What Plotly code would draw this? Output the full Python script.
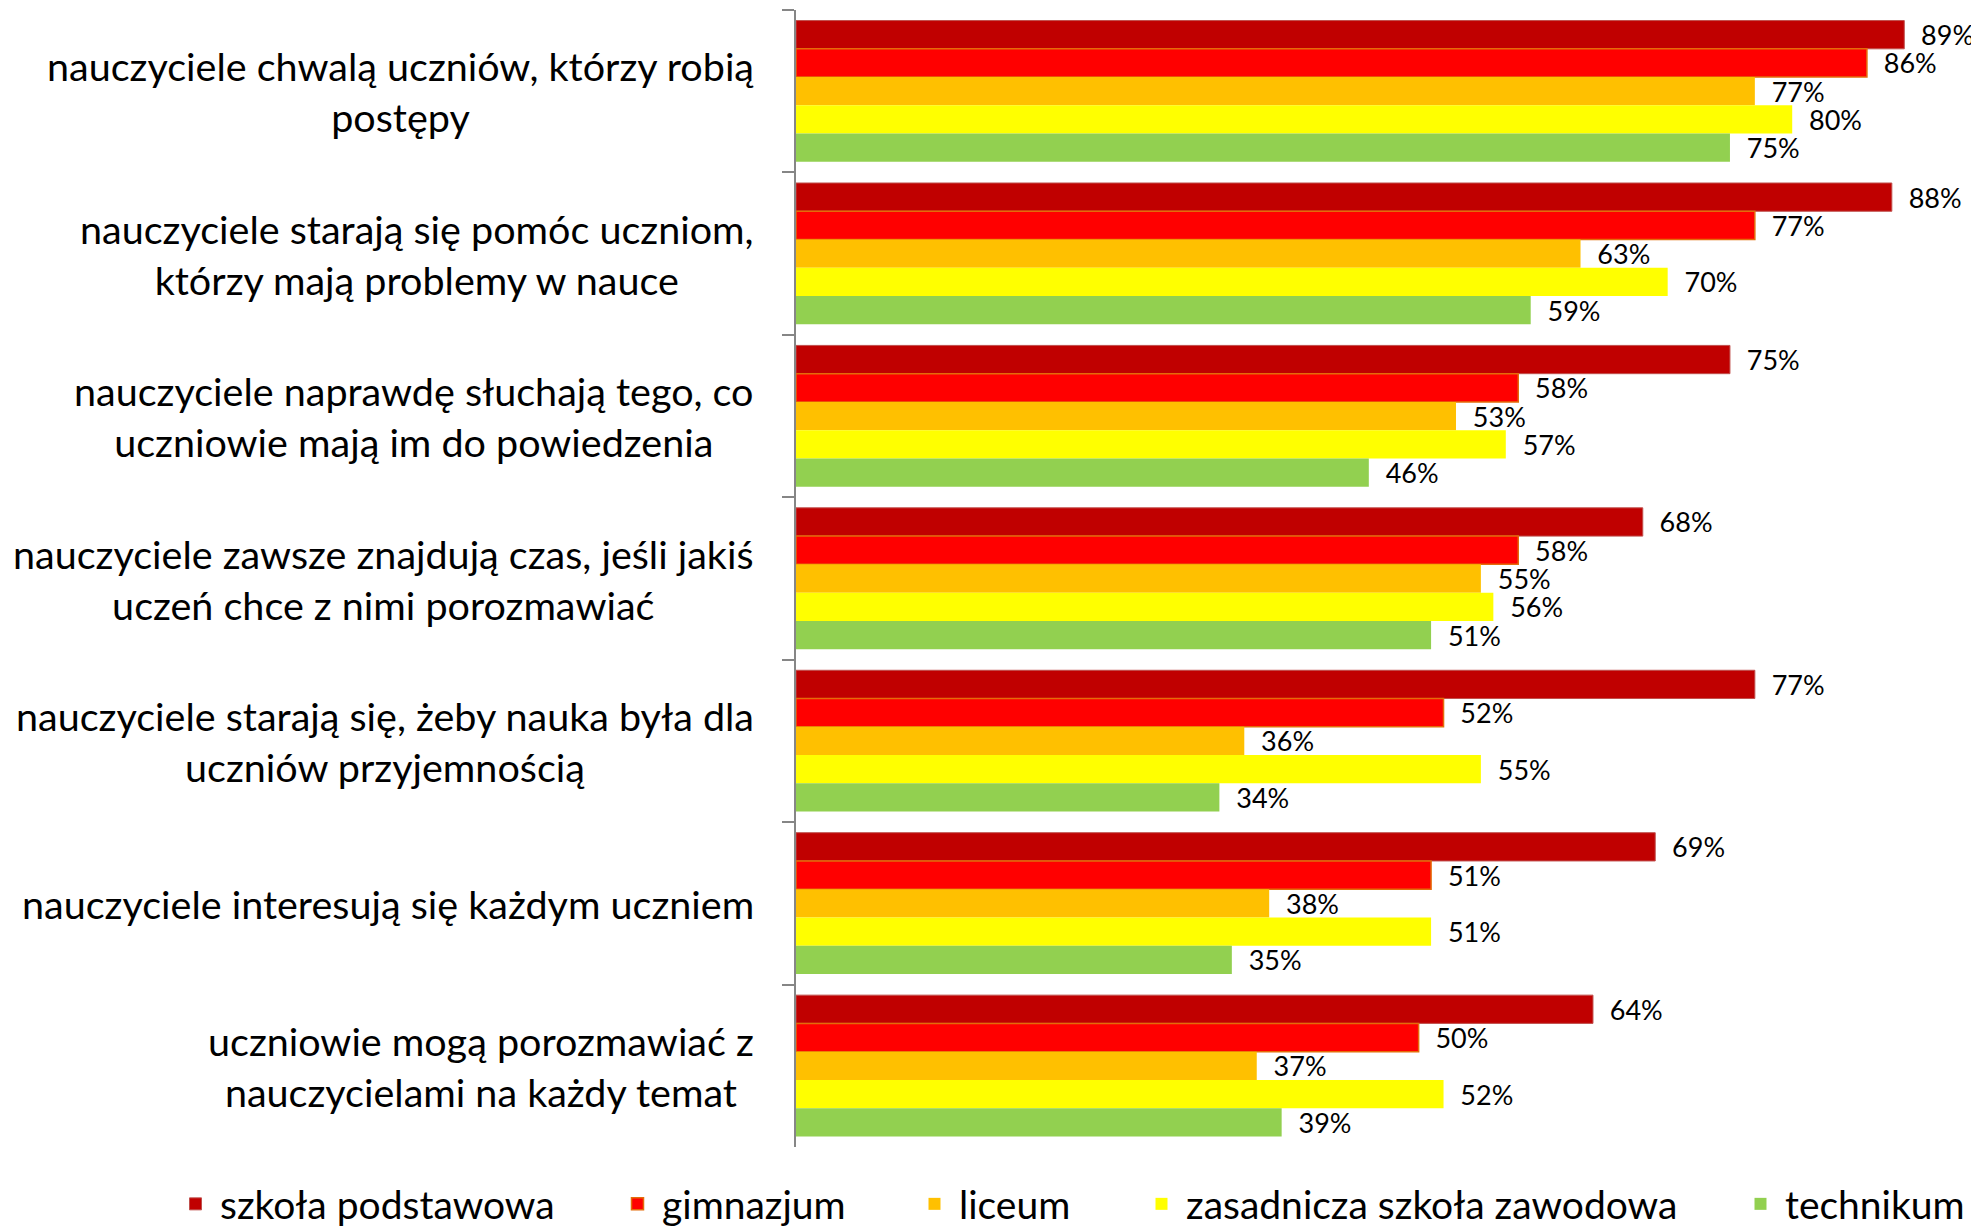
import plotly.graph_objects as go

categories = [
    "nauczyciele chwalą uczniów, którzy robią<br>postępy",
    "nauczyciele starają się pomóc uczniom,<br>którzy mają problemy w nauce",
    "nauczyciele naprawdę słuchają tego, co<br>uczniowie mają im do powiedzenia",
    "nauczyciele zawsze znajdują czas, jeśli jakiś<br>uczeń chce z nimi porozmawiać",
    "nauczyciele starają się, żeby nauka była dla<br>uczniów przyjemnością",
    "nauczyciele interesują się każdym uczniem",
    "uczniowie mogą porozmawiać z<br>nauczycielami na każdy temat",
]

series_names = ["szkoła podstawowa", "gimnazjum", "liceum",
                "zasadnicza szkoła zawodowa", "technikum"]

szkola_podstawowa = [89, 88, 75, 68, 77, 69, 64]
gimnazjum = [86, 77, 58, 58, 52, 51, 50]
liceum = [77, 63, 53, 55, 36, 38, 37]
zasadnicza = [80, 70, 57, 56, 55, 51, 52]
technikum = [75, 59, 46, 51, 34, 35, 39]

values = [szkola_podstawowa, gimnazjum, liceum, zasadnicza, technikum]
colors = ["#C00000", "#FF0000", "#FFC000", "#FFFF00", "#92D050"]
line_colors = ["#C0504D", "#E46C0A", "#FFC000", "#FFFF00", "#92D050"]
line_widths = [1, 1.5, 0, 0, 0]

FONT = "Lato"
PAGE_OFFSET = 8  # default body margin of the html page
W, H = 1979 - PAGE_OFFSET, 1226 - PAGE_OFFSET
legend_px = [189, 631, 928, 1155, 1754]

fig = go.Figure()
for i, (name, vals) in enumerate(zip(series_names, values)):
    fig.add_trace(go.Bar(
        name=name,
        y=categories,
        x=vals,
        orientation="h",
        marker=dict(color=colors[i], line=dict(color=line_colors[i], width=line_widths[i])),
        texttemplate="\u00a0\u00a0%{x}%",
        textposition="outside",
        textfont=dict(family=FONT, size=27, color="black"),
        constraintext="none",
        cliponaxis=False,
        legend="legend" if i == 0 else f"legend{i+1}",
        showlegend=True,
    ))

# category labels: centred multi-line text, right-aligned block next to the axis
for cat in categories:
    fig.add_annotation(
        xref="paper", x=0, yref="y", y=cat,
        text=cat, showarrow=False,
        xanchor="right", yanchor="middle", align="center",
        xshift=-40,
        font=dict(family=FONT, size=39.5, color="black"),
    )

layout = dict(
    template="none",
    width=W, height=H,
    showlegend=True,
    barmode="group",
    bargap=0.13,
    bargroupgap=0,
    plot_bgcolor="white",
    paper_bgcolor="white",
    margin=dict(l=796 - PAGE_OFFSET, r=0, t=10 - PAGE_OFFSET, b=79, autoexpand=False),
    font=dict(family=FONT, color="black"),
    xaxis=dict(range=[0, 95], visible=False, showgrid=False, automargin=False),
    yaxis=dict(
        autorange="reversed",
        automargin=False,
        showline=True, linecolor="#868686", linewidth=1.5,
        ticks="outside", tickson="boundaries", ticklen=12, tickcolor="#868686", tickwidth=1.5,
        showticklabels=False,
        showgrid=False, zeroline=False,
    ),
)
for i, name in enumerate(series_names):
    key = "legend" if i == 0 else f"legend{i+1}"
    layout[key] = dict(
        x=(legend_px[i] - 26) / W, xref="container", xanchor="left",
        y=1 - 1196 / H, yref="container", yanchor="middle",
        orientation="h", bgcolor="rgba(0,0,0,0)", borderwidth=0,
        itemwidth=39,
        font=dict(family=FONT, size=39, color="black"),
    )
fig.update_layout(**layout)

fig.write_html("out.html")
